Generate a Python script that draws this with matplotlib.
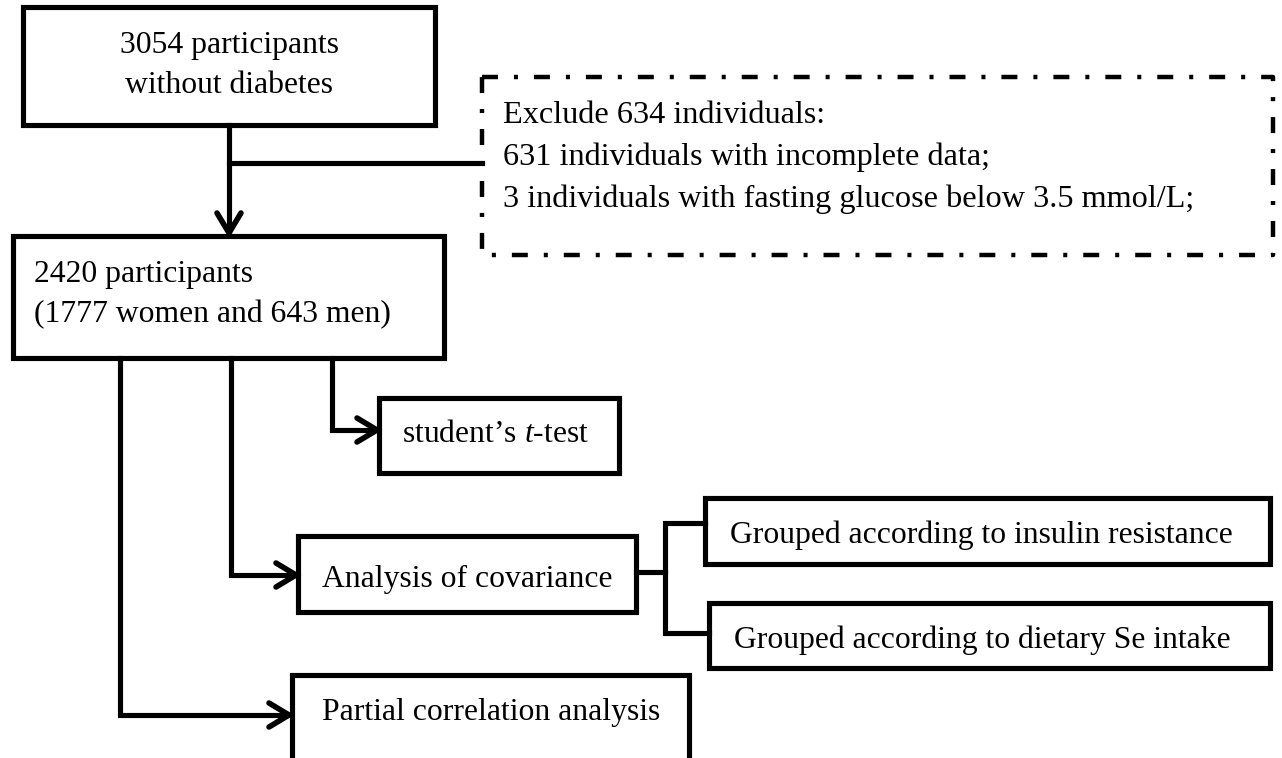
import matplotlib
matplotlib.use("Agg")
import matplotlib.pyplot as plt
from matplotlib.patches import Rectangle

plt.rcParams['font.family'] = ['Liberation Serif', 'DejaVu Serif']
plt.rcParams['mathtext.fontset'] = 'custom'
plt.rcParams['mathtext.rm'] = 'Liberation Serif'
plt.rcParams['mathtext.it'] = 'Liberation Serif:italic'
plt.rcParams['lines.scale_dashes'] = False

# ---- texts (content) ----
start_lines = ["3054 participants", "without diabetes"]
cohort_lines = ["2420 participants", "(1777 women and 643 men)"]
exclude_lines = ["Exclude 634 individuals:",
                 "631 individuals with incomplete data;",
                 "3 individuals with fasting glucose below 3.5 mmol/L;"]
ttest_label = "student\u2019s $t$-test"
ancova_label = "Analysis of covariance"
partial_label = "Partial correlation analysis"
group_labels = ["Grouped according to insulin resistance",
                "Grouped according to dietary Se intake"]

W, H = 1282, 758
fig = plt.figure(figsize=(W / 100, H / 100), dpi=100)
ax = fig.add_axes([0, 0, 1, 1])
ax.set_xlim(0, W)
ax.set_ylim(H, 0)
ax.axis('off')

LW = 3.7
FS = 22.8
K = 'black'


def box(x0, y0, x1, y1):
    ax.add_patch(Rectangle((x0, y0), x1 - x0, y1 - y0, fill=False,
                           edgecolor=K, lw=LW, joinstyle='miter'))


def path(xs, ys):
    ax.plot(xs, ys, color=K, lw=LW, solid_joinstyle='miter',
            solid_capstyle='projecting')


def head(tx, ty, direction):
    hl, hw = 20, 12
    if direction == 'down':
        xs = [tx - hw, tx, tx + hw]
        ys = [ty - hl, ty, ty - hl]
    else:  # right
        xs = [tx - hl, tx, tx - hl]
        ys = [ty - hw, ty, ty + hw]
    ax.plot(xs, ys, color=K, lw=LW + 0.3, solid_joinstyle='miter',
            solid_capstyle='round')


# boxes
box(23, 7, 435, 125)
box(13, 236, 444, 358)
box(379, 398, 619, 473)
box(298, 536, 636, 612)
box(705, 498, 1270, 564)
box(709, 603, 1270, 668)
# partial-correlation box runs off the bottom edge
path([292, 292, 689, 689], [770, 675, 675, 770])

# dash-dot exclusion box
ax.plot([482, 1273, 1273, 482, 482], [77, 77, 255, 255, 77], color=K,
        lw=3.2, linestyle=(0, (11.5, 11.5, 2.9, 11.5)),
        dash_capstyle='butt')

# connectors
path([229, 229], [125, 231])
head(229, 233, 'down')
path([229, 482], [163, 163])

path([332, 332, 376], [358, 430, 430])
head(377, 430, 'right')
path([231, 231, 295], [358, 575, 575])
head(296, 575, 'right')
path([120, 120, 288], [358, 715, 715])
head(289, 715, 'right')

path([636, 665], [572, 572])
path([705, 665, 665, 709], [523, 523, 633, 633])

# texts
ax.text(229, 53, start_lines[0], fontsize=FS, ha='center', va='baseline')
ax.text(229, 93, start_lines[1], fontsize=FS, ha='center', va='baseline')
ax.text(34, 282, cohort_lines[0], fontsize=FS, ha='left', va='baseline')
ax.text(34, 322, cohort_lines[1], fontsize=FS, ha='left', va='baseline')
for i, t in enumerate(exclude_lines):
    ax.text(503, 123 + 42 * i, t, fontsize=23.2, ha='left', va='baseline')
ax.text(496, 442, ttest_label, fontsize=FS, ha='center', va='baseline')
ax.text(467, 587, ancova_label, fontsize=FS, ha='center', va='baseline')
ax.text(491, 720, partial_label, fontsize=FS, ha='center', va='baseline')
ax.text(981, 543, group_labels[0], fontsize=FS, ha='center', va='baseline')
ax.text(982, 648, group_labels[1], fontsize=FS, ha='center', va='baseline')

fig.savefig('out.png', dpi=100)
